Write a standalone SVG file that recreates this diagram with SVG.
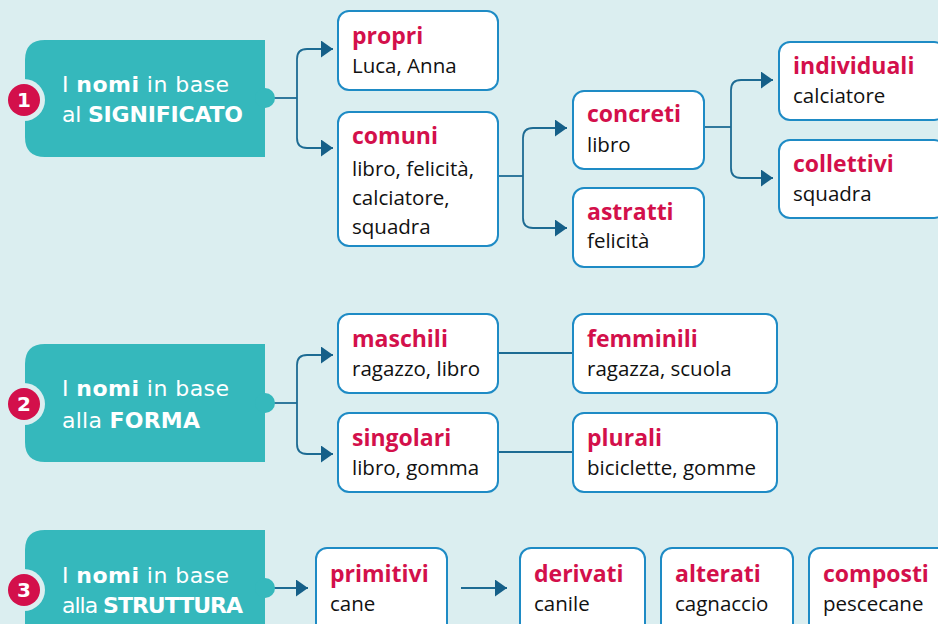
<svg xmlns="http://www.w3.org/2000/svg" width="938" height="624" viewBox="0 0 938 624">
<defs>
<style>
.bg{fill:#dbeef0}
.hdr{fill:#35b8bc}
.ring{fill:#dbeef0}
.badge{fill:#d3104b}
.num{font-family:"DejaVu Sans",sans-serif;font-weight:700;font-size:20px;fill:#fff;text-anchor:middle}
.ht{font-family:"DejaVu Sans",sans-serif;font-size:22px;fill:#fff}
.ht .b{font-weight:700}
.box{fill:#fff;stroke:#1e8bc5;stroke-width:2}
.t{font-family:"Open Sans",sans-serif;font-weight:700;font-size:23px;fill:#d3104b}
.s{font-family:"Open Sans",sans-serif;font-size:20.5px;fill:#111}
.c{fill:none;stroke:#1d6b93;stroke-width:1.8}
</style>
<marker id="ah" markerUnits="userSpaceOnUse" markerWidth="12" markerHeight="17" refX="12" refY="8.5" orient="auto">
<path d="M0,0 L12,8.5 L0,17 Z" fill="#155f88"/>
</marker>
</defs>
<rect class="bg" x="0" y="0" width="938" height="624"/>

<g id="connectors">
<path class="c" d="M274,98 H297"/>
<path class="c" d="M297,98 V59 Q297,49 307,49 H333" marker-end="url(#ah)"/>
<path class="c" d="M297,98 V138 Q297,148 307,148 H333" marker-end="url(#ah)"/>
<path class="c" d="M498,176 H523"/>
<path class="c" d="M523,176 V138 Q523,128 533,128 H567" marker-end="url(#ah)"/>
<path class="c" d="M523,176 V218 Q523,228 533,228 H567" marker-end="url(#ah)"/>
<path class="c" d="M704,127 H731"/>
<path class="c" d="M731,127 V90 Q731,80 741,80 H773" marker-end="url(#ah)"/>
<path class="c" d="M731,127 V168 Q731,178 741,178 H773" marker-end="url(#ah)"/>
<path class="c" d="M274,403 H297"/>
<path class="c" d="M297,403 V365 Q297,355 307,355 H333" marker-end="url(#ah)"/>
<path class="c" d="M297,403 V444 Q297,454 307,454 H333" marker-end="url(#ah)"/>
<path class="c" d="M498,353 H572"/>
<path class="c" d="M498,452 H572"/>
<path class="c" d="M274,588 H308" marker-end="url(#ah)"/>
<path class="c" d="M461,588 H507" marker-end="url(#ah)"/>
</g>

<g id="h1">
<path class="hdr" d="M45,40 H265 V157 H45 Q25,157 25,137 V60 Q25,40 45,40 Z"/>
<circle class="hdr" cx="265" cy="98" r="10"/>
<circle class="ring" cx="24" cy="100" r="21"/>
<circle class="badge" cx="24" cy="100" r="16"/>
<text class="num" x="24" y="107">1</text>
<text class="ht" x="62" y="92" textLength="167" lengthAdjust="spacing">I <tspan class="b">nomi</tspan> in base</text>
<text class="ht" x="62" y="122" textLength="181" lengthAdjust="spacing">al <tspan class="b">SIGNIFICATO</tspan></text>
</g>

<g id="propri">
<rect class="box" x="338" y="11" width="160" height="79" rx="11"/>
<text class="t" x="352" y="44">propri</text>
<text class="s" x="352" y="73">Luca, Anna</text>
</g>
<g id="comuni">
<rect class="box" x="338" y="112" width="160" height="134" rx="11"/>
<text class="t" x="352" y="144">comuni</text>
<text class="s" x="352" y="176">libro, felicità,</text>
<text class="s" x="352" y="205">calciatore,</text>
<text class="s" x="352" y="234">squadra</text>
</g>
<g id="concreti">
<rect class="box" x="573" y="91" width="131" height="78" rx="11"/>
<text class="t" x="587" y="122">concreti</text>
<text class="s" x="587" y="152">libro</text>
</g>
<g id="astratti">
<rect class="box" x="573" y="188" width="131" height="79" rx="11"/>
<text class="t" x="587" y="220">astratti</text>
<text class="s" x="587" y="248">felicità</text>
</g>
<g id="individuali">
<rect class="box" x="779" y="42" width="166" height="78" rx="11"/>
<text class="t" x="793" y="74">individuali</text>
<text class="s" x="793" y="103">calciatore</text>
</g>
<g id="collettivi">
<rect class="box" x="779" y="140" width="166" height="78" rx="11"/>
<text class="t" x="793" y="172">collettivi</text>
<text class="s" x="793" y="201">squadra</text>
</g>

<g id="h2">
<path class="hdr" d="M45,344 H265 V462 H45 Q25,462 25,442 V364 Q25,344 45,344 Z"/>
<circle class="hdr" cx="265" cy="403" r="10"/>
<circle class="ring" cx="24" cy="404" r="21"/>
<circle class="badge" cx="24" cy="404" r="16"/>
<text class="num" x="24" y="411">2</text>
<text class="ht" x="62" y="396" textLength="167" lengthAdjust="spacing">I <tspan class="b">nomi</tspan> in base</text>
<text class="ht" x="62" y="428" textLength="138" lengthAdjust="spacing">alla <tspan class="b">FORMA</tspan></text>
</g>
<g id="maschili">
<rect class="box" x="338" y="314" width="160" height="79" rx="11"/>
<text class="t" x="352" y="347">maschili</text>
<text class="s" x="352" y="376">ragazzo, libro</text>
</g>
<g id="singolari">
<rect class="box" x="338" y="413" width="160" height="79" rx="11"/>
<text class="t" x="352" y="446">singolari</text>
<text class="s" x="352" y="475">libro, gomma</text>
</g>
<g id="femminili">
<rect class="box" x="573" y="314" width="204" height="79" rx="11"/>
<text class="t" x="587" y="347">femminili</text>
<text class="s" x="587" y="376">ragazza, scuola</text>
</g>
<g id="plurali">
<rect class="box" x="573" y="413" width="204" height="79" rx="11"/>
<text class="t" x="587" y="446">plurali</text>
<text class="s" x="587" y="475">biciclette, gomme</text>
</g>

<g id="h3">
<path class="hdr" d="M45,530 H265 V660 H25 V550 Q25,530 45,530 Z"/>
<circle class="hdr" cx="265" cy="588" r="10"/>
<circle class="ring" cx="24" cy="590" r="21"/>
<circle class="badge" cx="24" cy="590" r="16"/>
<text class="num" x="24" y="597">3</text>
<text class="ht" x="62" y="583" textLength="167" lengthAdjust="spacing">I <tspan class="b">nomi</tspan> in base</text>
<text class="ht" x="62" y="613" textLength="181" lengthAdjust="spacing">alla <tspan class="b">STRUTTURA</tspan></text>
</g>
<g id="primitivi">
<rect class="box" x="316" y="548" width="131" height="90" rx="11"/>
<text class="t" x="330" y="582">primitivi</text>
<text class="s" x="330" y="611">cane</text>
</g>
<g id="derivati">
<rect class="box" x="520" y="548" width="125" height="90" rx="11"/>
<text class="t" x="534" y="582">derivati</text>
<text class="s" x="534" y="611">canile</text>
</g>
<g id="alterati">
<rect class="box" x="661" y="548" width="132" height="90" rx="11"/>
<text class="t" x="675" y="582">alterati</text>
<text class="s" x="675" y="611">cagnaccio</text>
</g>
<g id="composti">
<rect class="box" x="809" y="548" width="140" height="90" rx="11"/>
<text class="t" x="823" y="582">composti</text>
<text class="s" x="823" y="611">pescecane</text>
</g>
</svg>
